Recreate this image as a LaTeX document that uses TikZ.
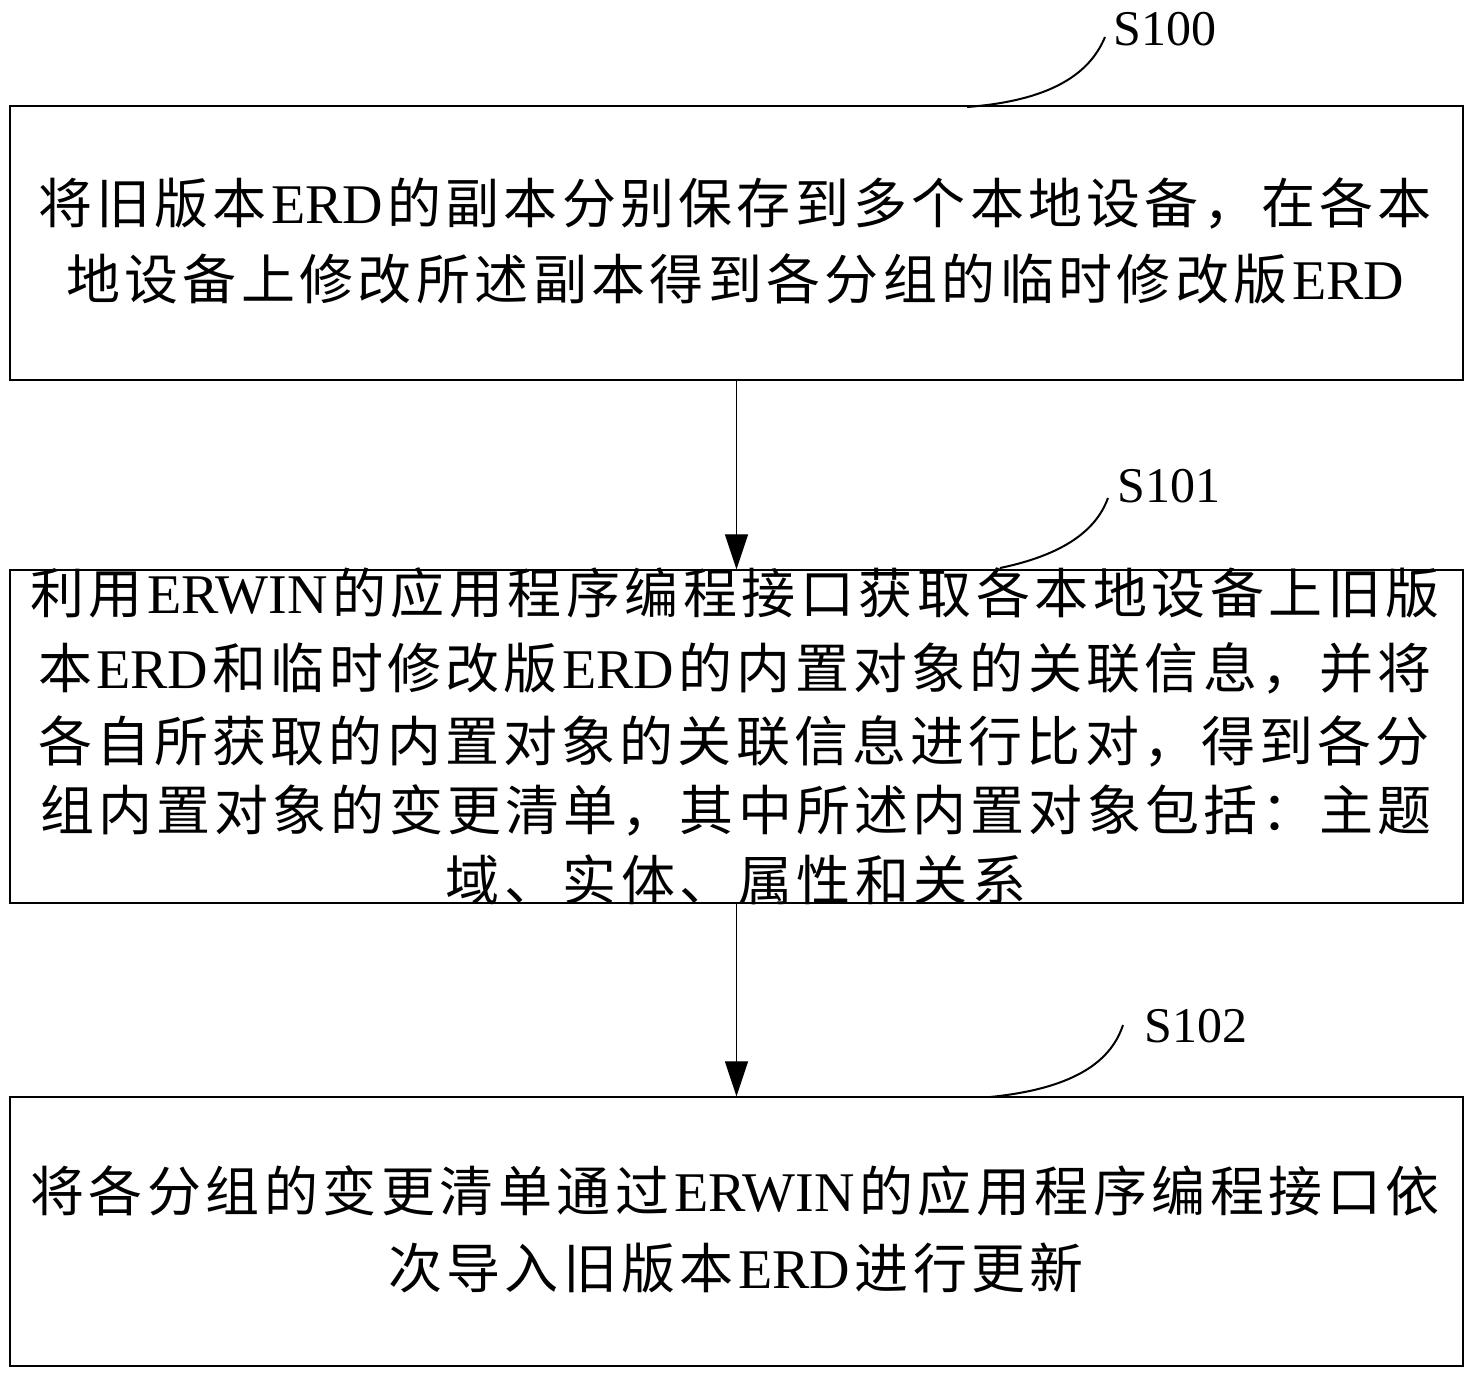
\documentclass[tikz,border=0pt]{standalone}
\usepackage{fontspec}
\setmainfont{Liberation Serif}
\newfontfamily\cjk{Noto Sans CJK SC}
\newfontfamily\lat[Scale=1.037]{Liberation Serif}
\usetikzlibrary{arrows.meta}
\makeatletter
\def\sp@end{\sp@end@}
\def\spreadline#1{\sp@start#1\sp@end}
\def\sp@start#1{#1\sp@loop}
\def\sp@loop#1{\ifx#1\sp@end\else\hfil#1\expandafter\sp@loop\fi}
\makeatother
\def\1{{\lat ERD}}
\def\2{{\lat ERWIN}}
\tikzset{
  box/.style={draw, line width=1.3pt, rectangle, inner sep=0pt, minimum width=1453pt},
  txt/.style={inner sep=0pt, anchor=base, font=\cjk\fontsize{54}{60}\selectfont},
  lab/.style={inner sep=0pt, anchor=base west, font=\fontsize{50}{50}\selectfont},
  arr/.style={line width=1.1pt, -{Triangle[length=35pt,width=23pt]}},
  curve/.style={line width=2pt}
}
\begin{document}
\begin{tikzpicture}[x=1pt,y=-1pt]
\useasboundingbox (0,0) rectangle (1475,1379);
% boxes
\node[box, minimum height=274pt] (b1) at (736.5,243) {};
\node[box, minimum height=333pt] (b2) at (736.5,736.5) {};
\node[box, minimum height=269pt] (b3) at (736.5,1231.5) {};
% box 1 text
\node[txt] (t11) at (735,223) {\hbox to 1394pt{\spreadline{将旧版本\1的副本分别保存到多个本地设备，在各本}}};
\node[txt] (t12) at (735,299) {\hbox to 1338pt{\spreadline{地设备上修改所述副本得到各分组的临时修改版\1}}};
% box 2 text
\node[txt] (t21) at (735,613) {\hbox to 1410pt{\spreadline{利用\2的应用程序编程接口获取各本地设备上旧版}}};
\node[txt] (t22) at (735,688) {\hbox to 1394pt{\spreadline{本\1和临时修改版\1的内置对象的关联信息，并将}}};
\node[txt] (t23) at (734,761) {\hbox to 1392pt{\spreadline{各自所获取的内置对象的关联信息进行比对，得到各分}}};
\node[txt] (t24) at (736,830) {\hbox to 1392pt{\spreadline{组内置对象的变更清单，其中所述内置对象包括：主题}}};
\node[txt] (t25) at (736,900) {\hbox to 581pt{\spreadline{域、实体、属性和关系}}};
% box 3 text
\node[txt] (t31) at (735,1211) {\hbox to 1410pt{\spreadline{将各分组的变更清单通过\2的应用程序编程接口依}}};
\node[txt] (t32) at (736,1288) {\hbox to 696pt{\spreadline{次导入旧版本\1进行更新}}};
% arrows
\draw[arr] (b1.south) -- (b2.north);
\draw[arr] (b2.south) -- (b3.north);
% labels
\node[lab] (l0) at (1113,45) {S100};
\node[lab] (l1) at (1117,502) {S101};
\node[lab] (l2) at (1144,1042) {S102};
\coordinate (s0) at (967,107);
\coordinate (e0) at (1105,37);
\coordinate (s1) at (1000,568);
\coordinate (e1) at (1108,498);
\coordinate (s2) at (990,1097);
\coordinate (e2) at (1123,1025);
\draw[curve] (s0) .. controls (1060,100) and (1092,68) .. (e0);
\draw[curve] (s1) .. controls (1072,553) and (1098,525) .. (e1);
\draw[curve] (s2) .. controls (1080,1088) and (1112,1058) .. (e2);
\end{tikzpicture}
\end{document}
